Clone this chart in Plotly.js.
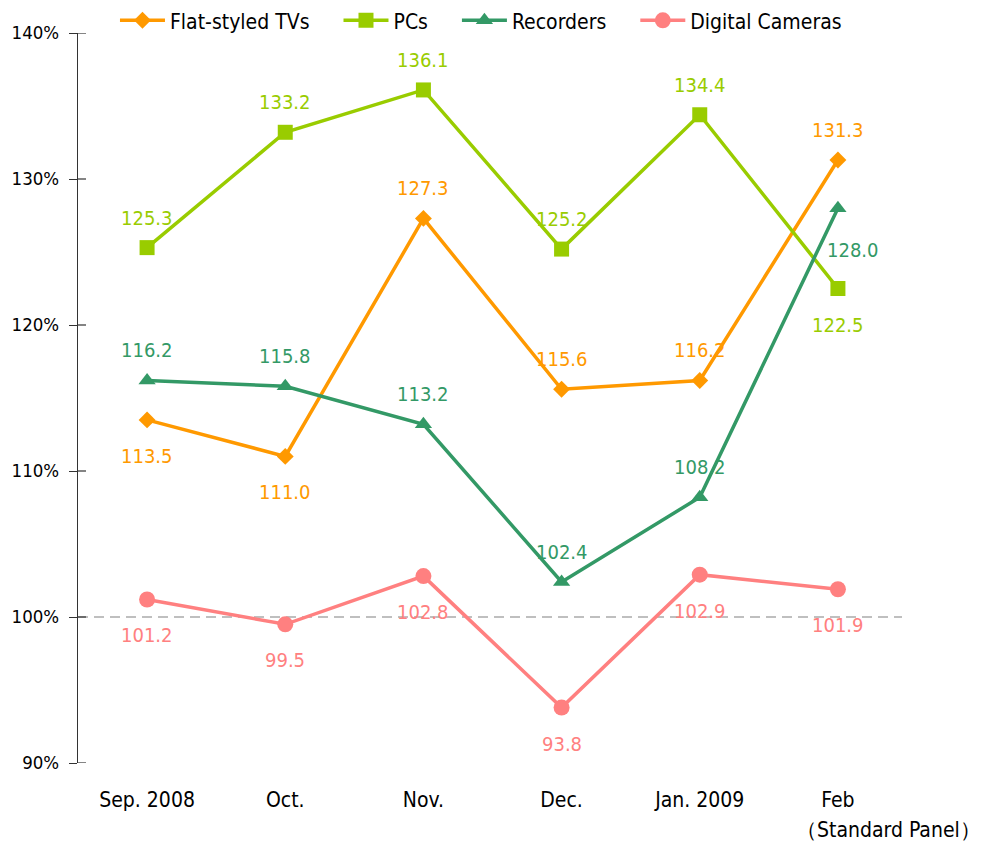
<!DOCTYPE html>
<html>
<head>
<meta charset="utf-8">
<script src="https://cdn.plot.ly/plotly-3.0.1.min.js"></script>
<style>html,body{margin:0;padding:0;background:#fff;}#chart{width:988px;height:843px;}</style>
</head>
<body>
<div id="chart"></div>
<script>
const categories = ["Sep. 2008", "Oct.", "Nov.", "Dec.", "Jan. 2009", "Feb"];
const seriesNames = ["Flat-styled TVs", "PCs", "Recorders", "Digital Cameras"];
const flatTVs = [113.5, 111.0, 127.3, 115.6, 116.2, 131.3];
const pcs = [125.3, 133.2, 136.1, 125.2, 134.4, 122.5];
const recorders = [116.2, 115.8, 113.2, 102.4, 108.2, 128.0];
const cameras = [101.2, 99.5, 102.8, 93.8, 102.9, 101.9];
const yTicks = [90, 100, 110, 120, 130, 140];

// label placement per point: 'a' above, 'b' below, 'r' right-below
const series = [
  {name: seriesNames[0], y: flatTVs, color: "#FF9900", symbol: "diamond", size: 13, place: ["b","b","a","a","a","a"]},
  {name: seriesNames[1], y: pcs, color: "#99CC00", symbol: "square", size: 15, place: ["a","a","a","a","a","b"]},
  {name: seriesNames[2], y: recorders, color: "#339966", symbol: "triangle-up", size: 15, place: ["a","a","a","a","a","r"]},
  {name: seriesNames[3], y: cameras, color: "#FF8080", symbol: "circle", size: 16, place: ["b","b","b","b","b","b"]}
];

const FONT = "'DejaVu Sans Condensed', 'DejaVu Sans', sans-serif";
const PAD = "\u00a0\u00a0\u00a0\u00a0";

const traces = series.map((s, k) => ({
  type: "scatter", mode: "lines+markers",
  name: k < series.length - 1 ? s.name + PAD : s.name,
  x: categories, y: s.y,
  line: {color: s.color, width: 3.5},
  marker: {color: s.color, symbol: s.symbol, size: s.size},
  cliponaxis: false
}));

const annotations = [];
series.forEach(s => {
  s.y.forEach((v, i) => {
    const p = s.place[i];
    annotations.push({
      x: categories[i], y: v, xref: "x", yref: "y",
      text: v.toFixed(1), showarrow: false,
      font: {family: FONT, size: 20, color: s.color},
      yshift: p === "a" ? 30 : (p === "b" ? -36 : -42),
      xshift: p === "r" ? 15 : 0
    });
  });
});
annotations.push({
  xref: "paper", yref: "paper", x: 1.092, y: -0.092, xanchor: "right", yanchor: "middle",
  text: "（Standard Panel）", showarrow: false,
  font: {family: FONT, size: 21, color: "#000"}
});

const shapes = [{
  type: "line", xref: "paper", yref: "y", x0: 0, x1: 0.994, y0: 100, y1: 100,
  line: {color: "#AAAAAA", width: 1.3, dash: "10px,6px"}, layer: "below"
}];
yTicks.forEach(t => {
  shapes.push({
    type: "line", xref: "paper", yref: "y", xsizemode: "pixel", xanchor: 0,
    x0: 0, x1: 8, y0: t, y1: t, line: {color: "#333", width: 1.2}
  });
});

const layout = {
  width: 988, height: 843,
  margin: {l: 78, r: 81, t: 33, b: 80, autoexpand: false},
  paper_bgcolor: "#fff", plot_bgcolor: "#fff",
  font: {family: FONT, size: 20, color: "#000"},
  showlegend: true,
  legend: {orientation: "h", x: 0.0446, y: 1.045, xanchor: "left", yanchor: "top",
    font: {family: FONT, size: 21, color: "#000"}, itemwidth: 45, tracegroupgap: 0},
  xaxis: {type: "category", range: [-0.5, 5.5], showline: false, showgrid: false, zeroline: false,
    ticks: "", ticklabelstandoff: 22, tickfont: {family: FONT, size: 21, color: "#000"}},
  yaxis: {range: [90, 140], tickvals: yTicks, ticktext: yTicks.map(t => t + "%"),
    showline: true, linecolor: "#333", linewidth: 1.2, ticks: "outside", ticklen: 8, tickcolor: "#333", tickwidth: 1.2,
    showgrid: false, zeroline: false, ticklabelstandoff: 6,
    tickfont: {family: FONT, size: 18.5, color: "#000"}},
  shapes: shapes,
  annotations: annotations
};

Plotly.newPlot("chart", traces, layout, {displayModeBar: false, responsive: false});
</script>
</body>
</html>
